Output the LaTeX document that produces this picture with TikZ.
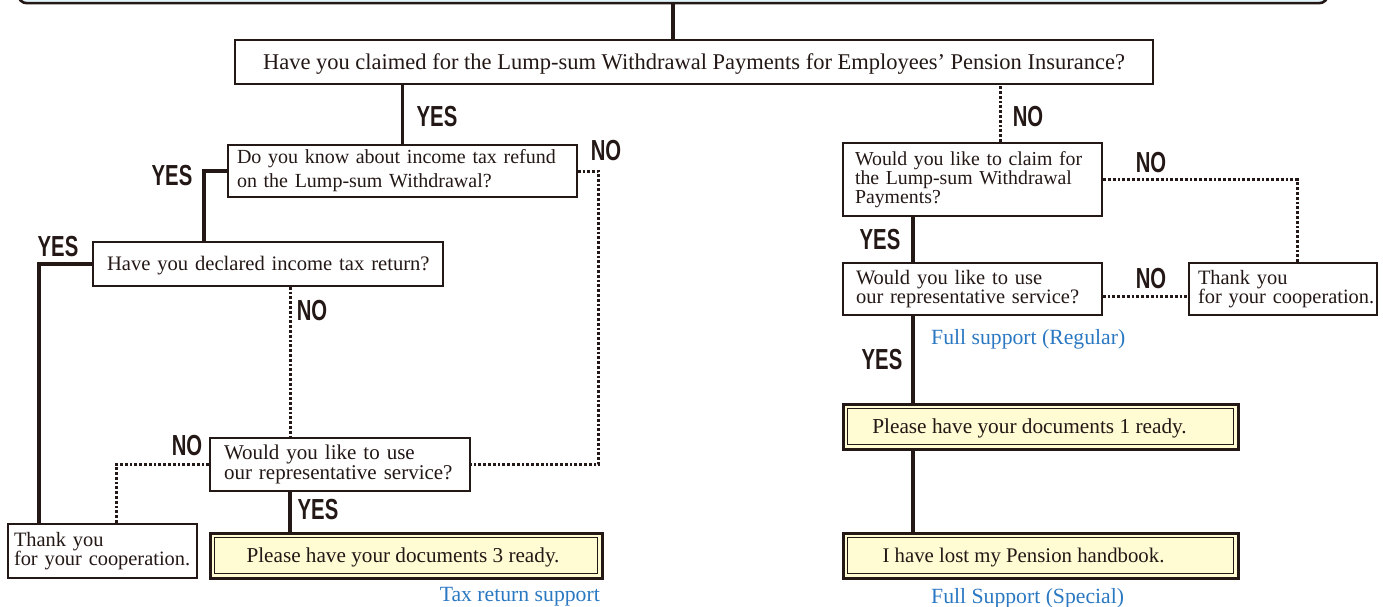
\documentclass[tikz,border=0pt]{standalone}
\usepackage{fontspec}
\setmainfont{Liberation Serif}
\newfontfamily\ynfont[FakeStretch=0.7]{Liberation Sans}
\usetikzlibrary{calc}
\definecolor{ink}{HTML}{231815}
\definecolor{cream}{HTML}{FFFBD2}
\definecolor{sky}{HTML}{E4F4FB}
\definecolor{bluetxt}{HTML}{2B78C2}
\begin{document}
\begin{tikzpicture}[x=1pt,y=-1pt,
  box/.style={draw=ink, line width=1.5pt, fill=white, inner sep=0pt, text=ink, align=left},
  docbox/.style={draw=ink, line width=3pt, fill=cream, inner sep=0pt, text=ink, align=center, text depth=1pt,
    path picture={\draw[ink, line width=1pt] ([shift={(4.5pt,-4.5pt)}]path picture bounding box.north west) rectangle ([shift={(-4.5pt,4.5pt)}]path picture bounding box.south east);}},
  topbar/.style={draw=ink, line width=2.6pt, fill=sky, rounded corners=9pt, inner sep=0pt},
  sline/.style={draw=ink, line width=3.2pt},
  dline/.style={draw=ink, line width=3pt, dash pattern=on 2.8pt off 2pt},
  yn/.style={text=ink, font=\ynfont\bfseries\fontsize{29}{30}\selectfont, inner sep=0pt},
  note/.style={text=bluetxt, font=\fontsize{21.7}{24}\selectfont, inner sep=0pt},
]
\useasboundingbox (0,0) rectangle (1383,607);
\clip (0,0) rectangle (1383,607);

% top bar
\node[topbar, minimum width=1310pt, minimum height=40pt, anchor=south] (top) at (673,4.5) {};

% left branch
\node[box, font=\fontsize{22.5}{24}\selectfont, text depth=1pt, minimum width=918pt, minimum height=44pt, align=center] (q1) at (694,62)
  {Have you claimed for the Lump-sum Withdrawal Payments for Employees’ Pension Insurance?};
\node[box, font=\fontsize{20}{24}\selectfont, minimum width=349pt, minimum height=52pt, text width=331pt] (q2) at (402.5,171)
  {\mbox{Do you know about income tax refund}\\\mbox{on the Lump-sum Withdrawal?}};
\node[box, font=\fontsize{20.6}{24}\selectfont, text depth=1pt, minimum width=350pt, minimum height=44pt, text width=322pt] (q3) at (268,264)
  {\mbox{Have you declared income tax return?}};
\node[box, font=\fontsize{21}{20}\selectfont, minimum width=260pt, minimum height=53pt, text width=232pt] (q5) at (340,464.5)
  {\mbox{Would you like to use}\\\mbox{our representative service?}};
\node[box, font=\fontsize{20.4}{19}\selectfont, minimum width=189pt, minimum height=54pt, text width=177pt] (ty1) at (102.5,551)
  {\mbox{Thank you}\\\mbox{for your cooperation.}};
\node[docbox, font=\fontsize{21.2}{24}\selectfont, minimum width=392pt, minimum height=45pt] (d3) at (406,555.5)
  {Please have your documents 3 ready.\hspace*{6pt}};
\node[note, anchor=east] (n3) at (600,597) {Tax return support};

% right branch
\node[box, font=\fontsize{19.8}{19}\selectfont, line width=2.3pt, minimum width=259pt, minimum height=73pt, text width=235pt] (r1) at (972.5,179.5)
  {\mbox{Would you like to claim for}\\\mbox{the Lump-sum Withdrawal}\\\mbox{Payments?}};
\node[box, font=\fontsize{20.5}{19}\selectfont, minimum width=259pt, minimum height=52pt, text width=233pt] (r2) at (972.5,289)
  {\mbox{Would you like to use}\\\mbox{our representative service?}};
\node[box, font=\fontsize{20.4}{19}\selectfont, minimum width=188pt, minimum height=52pt, text width=170pt] (r3) at (1283,289)
  {\mbox{Thank you}\\\mbox{for your cooperation.}};
\node[docbox, font=\fontsize{21.3}{24}\selectfont, minimum width=395pt, minimum height=45pt] (d1) at (1040.5,426.5)
  {Please have your documents 1 ready.\hspace*{22pt}};
\node[docbox, font=\fontsize{20.8}{24}\selectfont, minimum width=395pt, minimum height=45pt] (d2) at (1040.5,555.5)
  {I have lost my Pension handbook.\hspace*{34pt}};
\node[note, anchor=west] (n1) at (931,339) {Full support (Regular)};
\node[note, anchor=west] (n2) at (931,598) {Full Support (Special)};

% connectors
\draw[sline] (top.south) -- (top.south |- q1.north);
\draw[sline] (q2.north) -- (q2.north |- q1.south);
\draw[dline] ([xshift=27.5pt]r1.north) -- ([xshift=27.5pt]r1.north |- q1.south);
\draw[dline] (q2.east) -| ([xshift=128pt]q5.east) -- (q5.east);
\draw[sline] (q2.west) -| ([xshift=-64pt]q3.north);
\draw[sline] (q3.west) -| ([xshift=-63.5pt]ty1.north);
\draw[dline] ([xshift=22pt]q3.south) -- ([xshift=22pt]q3.south |- q5.north);
\draw[dline] (q5.west) -| ([xshift=13.5pt]ty1.north);
\draw[sline] ([xshift=-50pt]q5.south) -- ([xshift=-50pt]q5.south |- d3.north);
\draw[dline] (r1.east) -| ([xshift=14pt]r3.north);
\draw[sline] ([xshift=-59.5pt]r1.south) -- ([xshift=-59.5pt]r1.south |- r2.north);
\draw[dline] ([yshift=-7pt]r2.east) -- ([yshift=-7pt]r2.east -| r3.west);
\draw[sline] ([xshift=-59.5pt]r2.south) -- ([xshift=-59.5pt]r2.south |- d1.north);
\draw[sline] ([xshift=-127.5pt]d1.south) -- ([xshift=-127.5pt]d1.south |- d2.north);

% labels
\node[yn] (y1) at (437,117) {YES};
\node[yn] (no1) at (1028,117) {NO};
\node[yn] (no2) at (606,151) {NO};
\node[yn] (y2) at (172,176) {YES};
\node[yn] (y3) at (58,247) {YES};
\node[yn] (no3) at (312,311) {NO};
\node[yn] (no5) at (187,446) {NO};
\node[yn] (y5) at (318,510) {YES};
\node[yn] (nor1) at (1151,163) {NO};
\node[yn] (yr1) at (880,240) {YES};
\node[yn] (nor2) at (1151,279) {NO};
\node[yn] (yr2) at (882,360) {YES};
\end{tikzpicture}
\end{document}
